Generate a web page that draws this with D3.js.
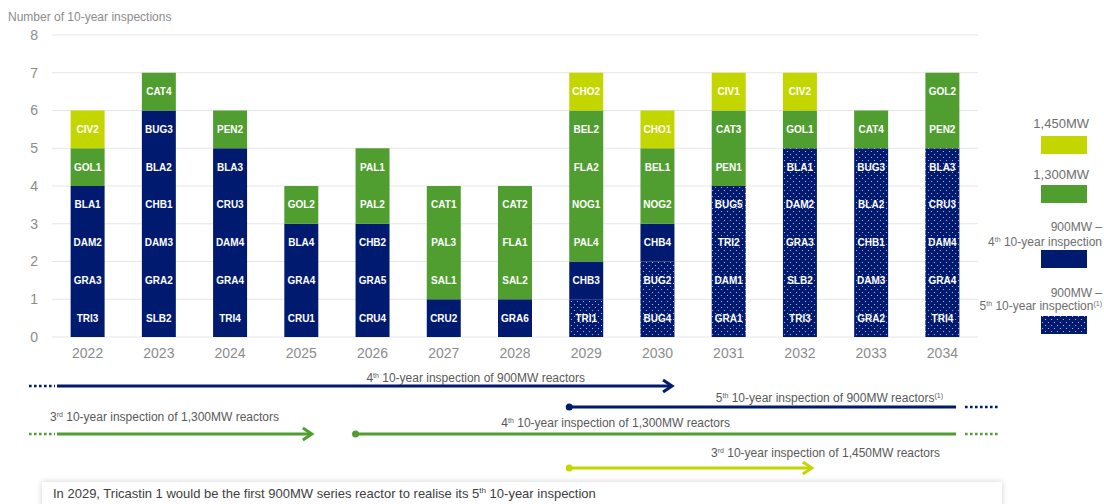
<!DOCTYPE html>
<html>
<head>
<meta charset="utf-8">
<script src="https://cdn.jsdelivr.net/npm/d3@7"></script>
<style>
  html, body { margin: 0; padding: 0; background: #fff; }
  svg { display: block; font-family: "Liberation Sans", Arial, sans-serif; }
</style>
</head>
<body>
<svg id="chart" width="1104" height="504"></svg>
<script>
// ---------------- DATA ----------------
const years = [2022, 2023, 2024, 2025, 2026, 2027, 2028, 2029, 2030, 2031, 2032, 2033, 2034];
const yTicks = [0, 1, 2, 3, 4, 5, 6, 7, 8];

// number of 10-year inspections per year and per series
const count900_5th = [0, 0, 0, 0, 0, 0, 0, 1, 2, 4, 5, 5, 5];
const count900_4th = [4, 6, 5, 3, 3, 1, 1, 1, 1, 0, 0, 0, 0];
const count1300    = [1, 1, 1, 1, 2, 3, 3, 4, 2, 2, 1, 1, 2];
const count1450    = [1, 0, 0, 0, 0, 0, 0, 1, 1, 1, 1, 0, 0];

// reactor names per year, bottom to top
const labels900_5th = [[], [], [], [], [], [], [], ["TRI1"], ["BUG4", "BUG2"],
  ["GRA1", "DAM1", "TRI2", "BUG5"], ["TRI3", "SLB2", "GRA3", "DAM2", "BLA1"],
  ["GRA2", "DAM3", "CHB1", "BLA2", "BUG3"], ["TRI4", "GRA4", "DAM4", "CRU3", "BLA3"]];
const labels900_4th = [["TRI3", "GRA3", "DAM2", "BLA1"], ["SLB2", "GRA2", "DAM3", "CHB1", "BLA2", "BUG3"],
  ["TRI4", "GRA4", "DAM4", "CRU3", "BLA3"], ["CRU1", "GRA4", "BLA4"], ["CRU4", "GRA5", "CHB2"],
  ["CRU2"], ["GRA6"], ["CHB3"], ["CHB4"], [], [], [], []];
const labels1300 = [["GOL1"], ["CAT4"], ["PEN2"], ["GOL2"], ["PAL2", "PAL1"], ["SAL1", "PAL3", "CAT1"],
  ["SAL2", "FLA1", "CAT2"], ["PAL4", "NOG1", "FLA2", "BEL2"], ["NOG2", "BEL1"], ["PEN1", "CAT3"],
  ["GOL1"], ["CAT4"], ["PEN2", "GOL2"]];
const labels1450 = [["CIV2"], [], [], [], [], [], [], ["CHO2"], ["CHO1"], ["CIV1"], ["CIV2"], [], []];

const seriesKeys = ["s900_5th", "s900_4th", "s1300", "s1450"];
const seriesNames = ["900MW – 5th 10-year inspection", "900MW – 4th 10-year inspection", "1,300MW", "1,450MW"];

// ---------------- STYLE ----------------
const NAVY = "#001a70", GREEN = "#509e2f", LIME = "#c4d600";
const fills = { s900_5th: "url(#dots)", s900_4th: NAVY, s1300: GREEN, s1450: LIME };
const GRAY_TXT = "#8c8c8c";

const svg = d3.select("#chart");
const defs = svg.append("defs");
const pat = defs.append("pattern").attr("id", "dots").attr("patternUnits", "userSpaceOnUse")
  .attr("width", 6).attr("height", 6);
pat.append("rect").attr("width", 6).attr("height", 6).attr("fill", NAVY);
pat.append("circle").attr("cx", 1.5).attr("cy", 1.5).attr("r", 0.6).attr("fill", "#c9cde6");
pat.append("circle").attr("cx", 4.5).attr("cy", 4.5).attr("r", 0.6).attr("fill", "#c9cde6");

const shadow = defs.append("filter").attr("id", "shadow").attr("x", "-5%").attr("y", "-50%")
  .attr("width", "110%").attr("height", "200%");
shadow.append("feDropShadow").attr("dx", 0).attr("dy", 0).attr("stdDeviation", 3)
  .attr("flood-color", "#000").attr("flood-opacity", 0.18);

// ---------------- SCALES ----------------
const x = d3.scaleBand().domain(years).range([52, 978]).paddingInner(0.523).paddingOuter(0.2615);
const y = d3.scaleLinear().domain([0, 8]).range([337, 35]);

// ---------------- TABLE / STACK ----------------
const table = years.map((yr, i) => ({
  year: yr,
  s900_5th: count900_5th[i], s900_4th: count900_4th[i], s1300: count1300[i], s1450: count1450[i],
  labels: { s900_5th: labels900_5th[i], s900_4th: labels900_4th[i], s1300: labels1300[i], s1450: labels1450[i] }
}));
const stacked = d3.stack().keys(seriesKeys)(table);

// ---------------- GRID + AXES ----------------
const grid = svg.append("g");
grid.selectAll("line").data(yTicks).join("line")
  .attr("x1", 52).attr("x2", 978)
  .attr("y1", d => y(d)).attr("y2", d => y(d))
  .attr("stroke", "#e6e6e6").attr("stroke-width", 1);

const yAxis = svg.append("g").attr("transform", "translate(44,0)")
  .call(d3.axisLeft(y).tickValues(yTicks).tickSize(0).tickPadding(0).tickFormat(d3.format("d")));
yAxis.select(".domain").remove();
yAxis.selectAll("text").attr("font-size", 14).attr("fill", GRAY_TXT)
  .attr("font-family", "Liberation Sans, Arial, sans-serif").attr("x", -6);

const xAxis = svg.append("g").attr("transform", "translate(0,337)")
  .call(d3.axisBottom(x).tickSize(0).tickPadding(11).tickFormat(d3.format("d")));
xAxis.select(".domain").remove();
xAxis.selectAll("text").attr("font-size", 14).attr("fill", GRAY_TXT)
  .attr("font-family", "Liberation Sans, Arial, sans-serif");

svg.append("text").attr("x", 8).attr("y", 21).attr("font-size", 12).attr("fill", GRAY_TXT)
  .text("Number of 10-year inspections");

// ---------------- BARS ----------------
const layers = svg.append("g").selectAll("g").data(stacked).join("g");
layers.selectAll("rect").data(d => d.filter(s => s[1] > s[0]).map(s => Object.assign(s, { key: d.key })))
  .join("rect")
  .attr("x", d => x(d.data.year)).attr("width", x.bandwidth())
  .attr("y", d => y(d[1])).attr("height", d => y(d[0]) - y(d[1]))
  .attr("fill", d => fills[d.key]);

// labels in each unit
const cells = [];
stacked.forEach(layer => layer.forEach(s => {
  const labs = s.data.labels[layer.key];
  labs.forEach((lab, i) => cells.push({ year: s.data.year, v: s[0] + i + 0.5, lab }));
}));
svg.append("g").selectAll("text").data(cells).join("text")
  .attr("x", d => x(d.year) + x.bandwidth() / 2)
  .attr("y", d => y(d.v))
  .attr("dy", "0.36em")
  .attr("text-anchor", "middle")
  .attr("font-size", 10).attr("font-weight", "bold").attr("fill", "#fff")
  .text(d => d.lab);

// ---------------- LEGEND ----------------
const legend = svg.append("g");
const legendItems = [
  { key: "s1450", lines: [["1,450MW"]], ty: [128], ry: 136, anchorX: 1089 },
  { key: "s1300", lines: [["1,300MW"]], ty: [179], ry: 185, anchorX: 1089 },
  { key: "s900_4th", lines: [["900MW –"], ["4", "th", " 10-year inspection"]], ty: [231, 246], ry: 250, anchorX: 1102 },
  { key: "s900_5th", lines: [["900MW –"], ["5", "th", " 10-year inspection", "(1)"]], ty: [297, 310], ry: 316, anchorX: 1102 }
];
legendItems.forEach(it => {
  it.lines.forEach((parts, li) => {
    const t = legend.append("text").attr("x", it.anchorX).attr("y", it.ty[li]).attr("text-anchor", "end")
      .attr("font-size", li === 0 && it.lines.length === 1 ? 13 : 12).attr("fill", "#6e6e6e");
    if (parts.length === 1) t.text(parts[0]);
    else {
      t.append("tspan").text(parts[0]);
      t.append("tspan").attr("font-size", 7).attr("dy", -4).text(parts[1]);
      t.append("tspan").attr("dy", 4).text(parts[2]);
      if (parts[3]) t.append("tspan").attr("font-size", 7).attr("dy", -4).text(parts[3]);
    }
  });
  legend.append("rect").attr("x", 1041).attr("y", it.ry).attr("width", 46).attr("height", 18)
    .attr("fill", fills[it.key]);
});

// ---------------- TIMELINE ARROWS ----------------
const arrows = [
  { color: NAVY, y: 386, x0: 57, x1: x(2030) + x.bandwidth() * 0.93, dotL: true, dotR: false, startDot: false, head: true,
    label: ["4", "th", " 10-year inspection of 900MW reactors"], lx: 585, ly: 382 },
  { color: NAVY, y: 407, x0: x(2029), x1: 956, dotL: false, dotR: true, startDot: true, head: false,
    label: ["5", "th", " 10-year inspection of 900MW reactors", "(1)"], lx: 943, ly: 402 },
  { color: GREEN, y: 434, x0: 57, x1: x(2025) + x.bandwidth() * 0.81, dotL: true, dotR: false, startDot: false, head: true,
    label: ["3", "rd", " 10-year inspection of 1,300MW reactors"], lx: 279, ly: 421 },
  { color: GREEN, y: 434, x0: x(2026), x1: 956, dotL: false, dotR: true, startDot: true, head: false,
    label: ["4", "th", " 10-year inspection of 1,300MW reactors"], lx: 730, ly: 427 },
  { color: LIME, y: 468, x0: x(2029), x1: x(2032) + x.bandwidth() * 0.85, dotL: false, dotR: false, startDot: true, head: true,
    label: ["3", "rd", " 10-year inspection of 1,450MW reactors"], lx: 940, ly: 457 }
];
const ag = svg.append("g");
arrows.forEach(a => {
  ag.append("line").attr("x1", a.x0).attr("x2", a.x1 - (a.head ? 1 : 0)).attr("y1", a.y).attr("y2", a.y)
    .attr("stroke", a.color).attr("stroke-width", 3);
  if (a.dotL) ag.append("line").attr("x1", 29).attr("x2", 55).attr("y1", a.y).attr("y2", a.y)
    .attr("stroke", a.color).attr("stroke-width", 2.6).attr("stroke-dasharray", "2.6,2.4");
  if (a.dotR) ag.append("line").attr("x1", 965).attr("x2", 1000).attr("y1", a.y).attr("y2", a.y)
    .attr("stroke", a.color).attr("stroke-width", 2.6).attr("stroke-dasharray", "2.6,2.4");
  if (a.startDot) ag.append("circle").attr("cx", a.x0).attr("cy", a.y).attr("r", 3.5).attr("fill", a.color);
  if (a.head) ag.append("path")
    .attr("d", `M${a.x1 - 9},${a.y - 6} L${a.x1},${a.y} L${a.x1 - 9},${a.y + 6}`)
    .attr("fill", "none").attr("stroke", a.color).attr("stroke-width", 3).attr("stroke-linejoin", "miter");
  const t = ag.append("text").attr("x", a.lx).attr("y", a.ly).attr("text-anchor", "end")
    .attr("font-size", 12).attr("fill", "#595959");
  t.append("tspan").text(a.label[0]);
  t.append("tspan").attr("font-size", 7).attr("dy", -4).text(a.label[1]);
  t.append("tspan").attr("dy", 4).text(a.label[2]);
  if (a.label[3]) t.append("tspan").attr("font-size", 7).attr("dy", -4).text(a.label[3]);
});

// ---------------- NOTE BOX ----------------
svg.append("rect").attr("x", 42).attr("y", 482).attr("width", 960).attr("height", 40)
  .attr("fill", "#fff").attr("filter", "url(#shadow)");
const note = svg.append("text").attr("x", 53).attr("y", 498).attr("font-size", 13).attr("fill", "#404040");
note.append("tspan").text("In 2029, Tricastin 1 would be the first 900MW series reactor to realise its 5");
note.append("tspan").attr("font-size", 8).attr("dy", -5).text("th");
note.append("tspan").attr("dy", 5).text(" 10-year inspection");
</script>
</body>
</html>
